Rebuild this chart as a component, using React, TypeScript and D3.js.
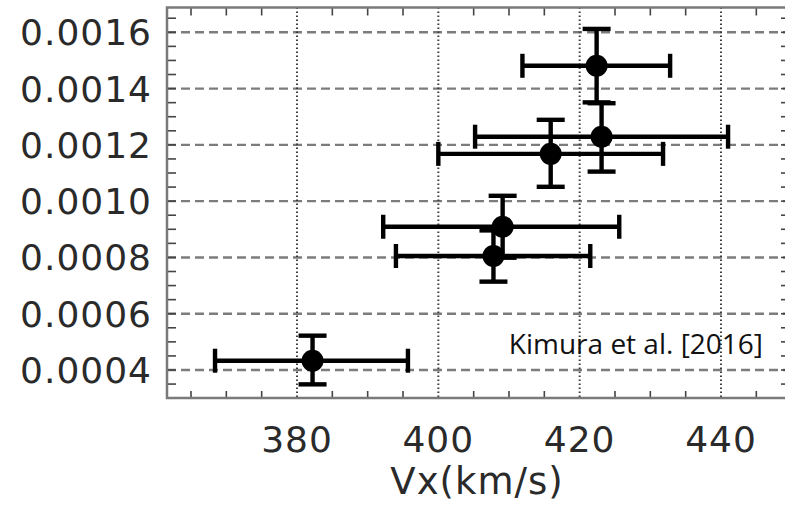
import React from "react";
import * as d3 from "d3";

const vx = [382.2, 407.8, 409.1, 415.9, 423.1, 422.4];
const vxLow = [368.4, 394.0, 392.2, 400.0, 405.2, 411.9];
const vxHigh = [395.7, 421.5, 425.6, 431.8, 441.0, 432.8];
const yv = [0.000433, 0.000805, 0.000909, 0.001168, 0.001229, 0.001481];
const yLow = [0.000349, 0.000714, 0.000799, 0.001051, 0.001105, 0.001351];
const yHigh = [0.000522, 0.000896, 0.001019, 0.001289, 0.001348, 0.001612];

const xTicks = [380, 400, 420, 440];
const yTicks = [0.0004, 0.0006, 0.0008, 0.001, 0.0012, 0.0014, 0.0016];
const xMinor = d3.range(365, 450, 5);
const yMinor = d3.range(0.00035, 0.00168, 0.00005);
const xTitle = "Vx(km/s)";
const note = "Kimura et al. [2016]";

const W = 785;
const H = 506;
const L = 167;
const R = 790;
const T = 7.5;
const B = 398;

export default function App() {
  const x = d3.scaleLinear().domain([380, 440]).range([297, 721]);
  const y = d3.scaleLinear().domain([0.0004, 0.0016]).range([370, 32.3]);
  const font = "'DejaVu Sans', Verdana, sans-serif";
  const frame = "#7a7a7a";
  return (
    <svg width={W} height={H} style={{ position: "absolute", left: 0, top: 0, background: "#fff" }}>
      {yTicks.map((t, i) => (
        <line key={"hg" + i} x1={L} x2={R} y1={y(t)} y2={y(t)} stroke="#7c7c7c" strokeWidth={2.4} strokeDasharray="9,5" />
      ))}
      {xTicks.map((t, i) => (
        <line key={"vg" + i} x1={x(t)} x2={x(t)} y1={T} y2={B} stroke="#3c3c3c" strokeWidth={2} strokeDasharray="1.6,2.4" />
      ))}
      {xMinor.filter((t) => t % 20 !== 0).map((t, i) => (
        <g key={"xm" + i}>
          <line x1={x(t)} x2={x(t)} y1={B} y2={B - 7} stroke="#444" strokeWidth={1.6} />
          <line x1={x(t)} x2={x(t)} y1={T} y2={T + 8} stroke="#444" strokeWidth={1.6} />
        </g>
      ))}
      {yMinor.map((t, i) => (
        <g key={"ym" + i}>
          <line x1={L} x2={L + 9} y1={y(t)} y2={y(t)} stroke="#444" strokeWidth={1.6} />
          <line x1={R} x2={R - 9} y1={y(t)} y2={y(t)} stroke="#444" strokeWidth={1.6} />
        </g>
      ))}
      <rect x={L} y={T} width={R - L} height={B - T} fill="none" stroke={frame} strokeWidth={2.5} />
      {vx.map((v, i) => {
        const cx = x(v);
        const cy = y(yv[i]);
        const x0 = x(vxLow[i]);
        const x1 = x(vxHigh[i]);
        const y0 = y(yLow[i]);
        const y1 = y(yHigh[i]);
        return (
          <g key={"p" + i} stroke="#000" strokeWidth={4.4}>
            <line x1={x0} x2={x1} y1={cy} y2={cy} />
            <line x1={x0} x2={x0} y1={cy - 12} y2={cy + 12} />
            <line x1={x1} x2={x1} y1={cy - 12} y2={cy + 12} />
            <line x1={cx} x2={cx} y1={y0} y2={y1} />
            <line x1={cx - 14} x2={cx + 14} y1={y0} y2={y0} />
            <line x1={cx - 14} x2={cx + 14} y1={y1} y2={y1} />
            <circle cx={cx} cy={cy} r={11} fill="#000" stroke="none" />
          </g>
        );
      })}
      {yTicks.map((t, i) => (
        <text key={"yl" + i} x={152} y={y(t)} dy="0.36em" textAnchor="end" fontFamily={font} fontSize={36} letterSpacing={1} fill="#2a2a2a">
          {t.toFixed(4)}
        </text>
      ))}
      {xTicks.map((t, i) => (
        <text key={"xl" + i} x={x(t)} y={451.5} textAnchor="middle" fontFamily={font} fontSize={36} letterSpacing={1} fill="#2a2a2a">
          {t}
        </text>
      ))}
      <text x={477} y={494} textAnchor="middle" fontFamily={font} fontSize={37} letterSpacing={1} fill="#2a2a2a">
        {xTitle}
      </text>
      <text x={763} y={354} textAnchor="end" fontFamily="'Open Sans', sans-serif" fontSize={28} fill="#111">
        {note}
      </text>
    </svg>
  );
}
